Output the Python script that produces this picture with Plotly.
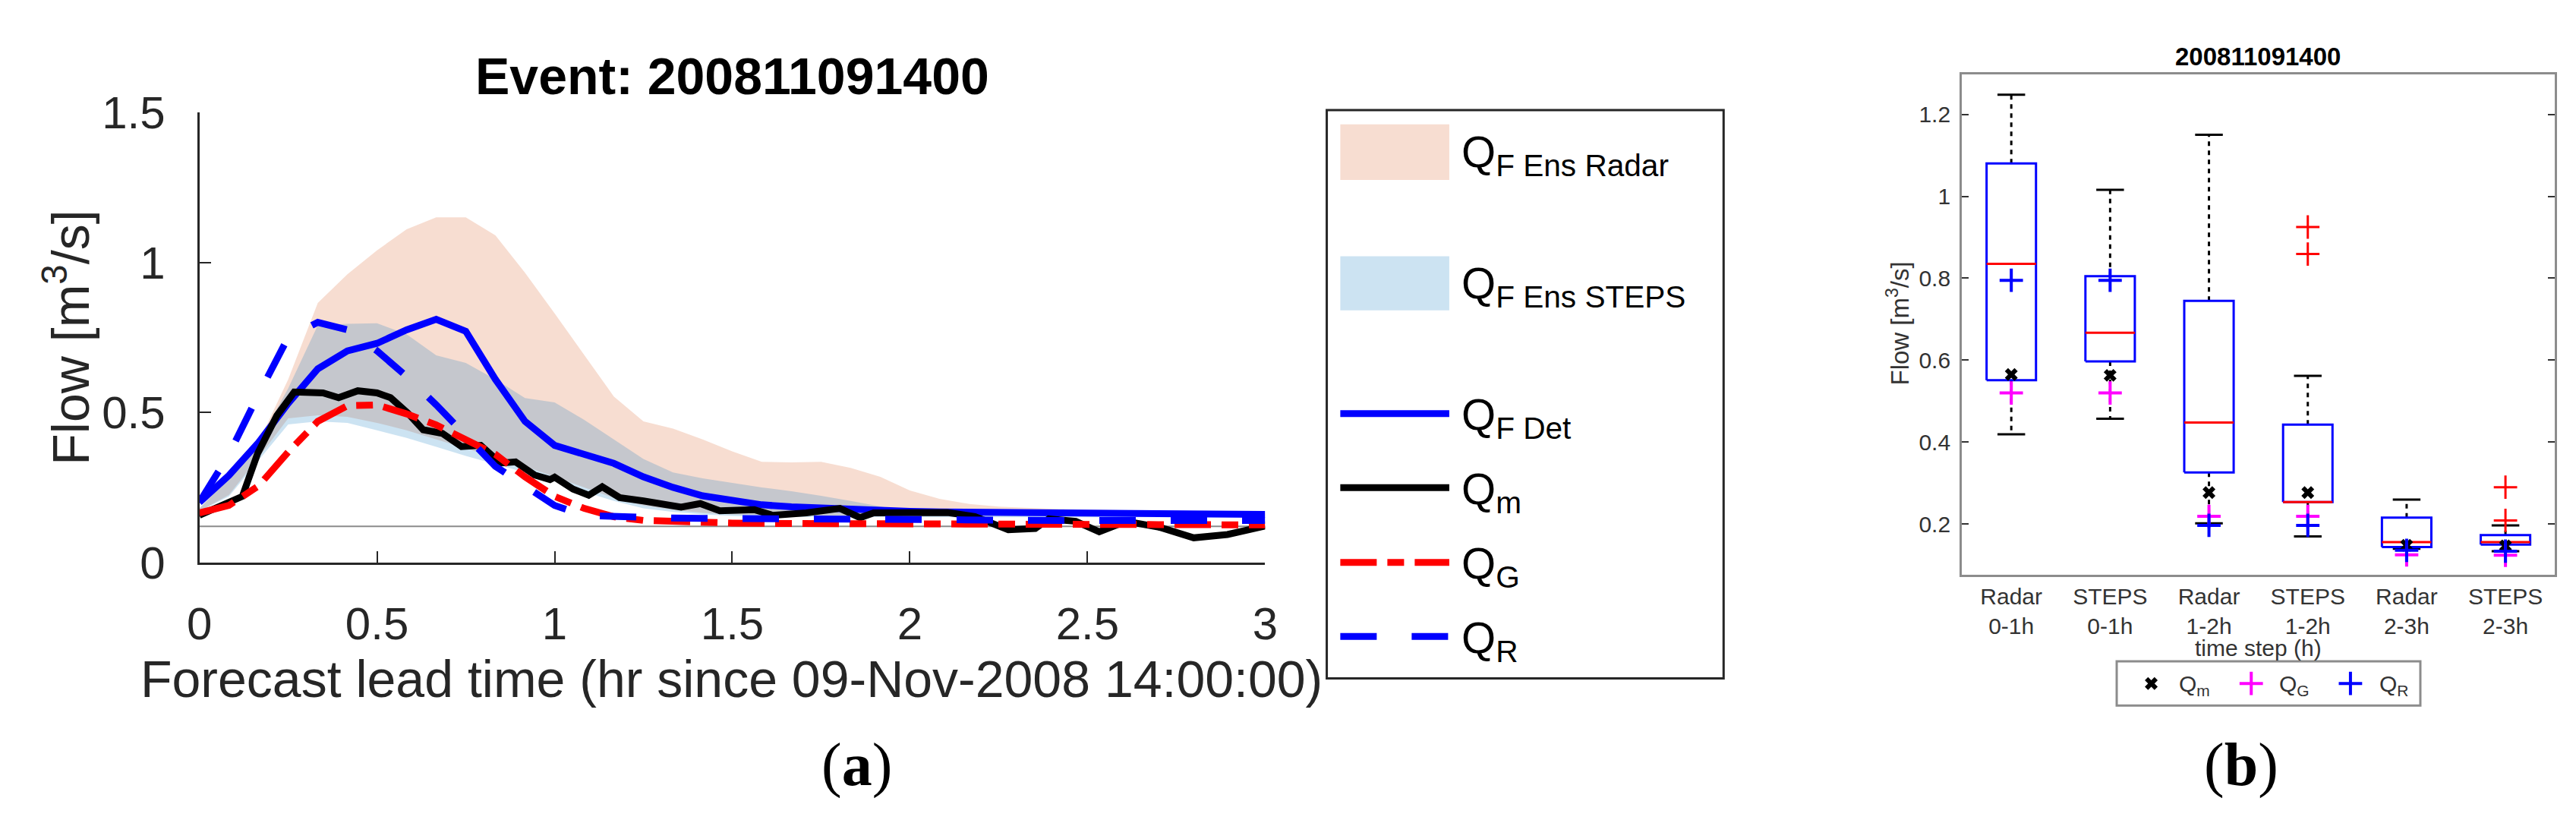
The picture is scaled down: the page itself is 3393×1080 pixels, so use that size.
"""
Two-panel flow forecast figure: (a) hydrographs with ensemble envelopes,
(b) hourly box plots of ensemble flow with observed / gauge / radar values.
"""

import plotly.graph_objects as go

FIG_W, FIG_H = 3393, 1080

# ---------------------------------------------------------------- panel (a)
# forecast lead time, minutes since 09-Nov-2008 14:00
LEAD_MIN = [0, 5, 10, 15, 20, 25, 30, 35, 40, 45, 50, 55, 60, 65, 70, 75, 80, 85, 90,
            95, 100, 105, 110, 115, 120, 125, 130, 135, 140, 145, 150, 155, 160, 165,
            170, 175, 180]

RADAR_ENS_HI = [0.18, 0.28, 0.40, 0.61, 0.865, 0.96, 1.04, 1.11, 1.15, 1.15, 1.09, 0.965,
                0.83, 0.69, 0.553, 0.47, 0.446, 0.41, 0.37, 0.335, 0.333, 0.335, 0.315,
                0.285, 0.24, 0.212, 0.195, 0.186, 0.182, 0.178, 0.176, 0.174, 0.172,
                0.170, 0.168, 0.166, 0.165]
RADAR_ENS_LO = [0.17, 0.225, 0.35, 0.48, 0.49, 0.485, 0.465, 0.44, 0.41, 0.38, 0.35, 0.32,
                0.285, 0.25, 0.215, 0.19, 0.175, 0.165, 0.16, 0.158, 0.157, 0.156, 0.156,
                0.155, 0.155, 0.155, 0.155, 0.155, 0.155, 0.155, 0.155, 0.155, 0.155,
                0.155, 0.155, 0.155, 0.155]
STEPS_ENS_HI = [0.18, 0.28, 0.40, 0.58, 0.79, 0.795, 0.797, 0.76, 0.69, 0.665, 0.61, 0.548,
                0.533, 0.475, 0.41, 0.345, 0.30, 0.28, 0.265, 0.25, 0.237, 0.222, 0.205,
                0.187, 0.168, 0.163, 0.162, 0.161, 0.161, 0.16, 0.16, 0.16, 0.16, 0.16,
                0.16, 0.16, 0.16]
STEPS_ENS_LO = [0.17, 0.22, 0.34, 0.46, 0.47, 0.465, 0.44, 0.415, 0.385, 0.355, 0.328, 0.30,
                0.27, 0.235, 0.205, 0.18, 0.168, 0.16, 0.155, 0.152, 0.151, 0.15, 0.15,
                0.15, 0.15, 0.15, 0.15, 0.15, 0.15, 0.15, 0.15, 0.15, 0.15, 0.15, 0.15,
                0.15, 0.15]
Q_F_DET = [0.20, 0.29, 0.40, 0.53, 0.645, 0.705, 0.73, 0.775, 0.81, 0.77, 0.61, 0.47, 0.39,
           0.362, 0.33, 0.285, 0.25, 0.222, 0.205, 0.192, 0.185, 0.18, 0.176, 0.172, 0.17,
           0.168, 0.167, 0.165, 0.164, 0.163, 0.163, 0.162, 0.162, 0.161, 0.161, 0.16, 0.16]
Q_G = [0.165, 0.19, 0.255, 0.368, 0.47, 0.522, 0.525, 0.495, 0.458, 0.408, 0.36, 0.285,
       0.22, 0.18, 0.152, 0.14, 0.136, 0.133, 0.131, 0.13, 0.13, 0.129, 0.129, 0.128, 0.128,
       0.128, 0.127, 0.127, 0.127, 0.126, 0.126, 0.126, 0.125, 0.125, 0.125, 0.125, 0.125]
Q_R = [0.20, 0.36, 0.56, 0.75, 0.80, 0.775, 0.705, 0.62, 0.525, 0.42, 0.32, 0.255, 0.19,
       0.156, 0.152, 0.15, 0.148, 0.147, 0.146, 0.145, 0.144, 0.143, 0.142, 0.142, 0.141,
       0.141, 0.14, 0.14, 0.14, 0.14, 0.14, 0.14, 0.14, 0.14, 0.14, 0.14, 0.14]

# observed flow (own, irregular time stamps in hours)
OBS_HR = [0, 0.121, 0.164, 0.218, 0.267, 0.348, 0.392, 0.446, 0.5, 0.538, 0.587, 0.63,
          0.684, 0.738, 0.792, 0.847, 0.89, 0.944, 0.987, 1.0, 1.052, 1.096, 1.134, 1.183,
          1.25, 1.302, 1.356, 1.41, 1.465, 1.562, 1.614, 1.708, 1.803, 1.86, 1.898, 2.106,
          2.183, 2.277, 2.353, 2.391, 2.467, 2.533, 2.609, 2.703, 2.799, 2.894, 3.0]
Q_M = [0.157, 0.220, 0.363, 0.489, 0.568, 0.565, 0.549, 0.572, 0.565, 0.549, 0.497, 0.442,
       0.430, 0.386, 0.39, 0.331, 0.335, 0.291, 0.276, 0.284, 0.244, 0.224, 0.252, 0.216,
       0.205, 0.196, 0.184, 0.196, 0.172, 0.176, 0.157, 0.165, 0.180, 0.149, 0.165, 0.166,
       0.153, 0.109, 0.113, 0.145, 0.137, 0.102, 0.137, 0.117, 0.082, 0.093, 0.121]

BASE_FLOW = 0.12

X_TICKS = [0, 0.5, 1, 1.5, 2, 2.5, 3]
X_TICK_TEXT = ["0", "0.5", "1", "1.5", "2", "2.5", "3"]
Y_TICKS = [0, 0.5, 1, 1.5]
Y_TICK_TEXT = ["0", "0.5", "1", "1.5"]

# ---------------------------------------------------------------- panel (b)
GROUPS = ["Radar<br>0-1h", "STEPS<br>0-1h", "Radar<br>1-2h",
          "STEPS<br>1-2h", "Radar<br>2-3h", "STEPS<br>2-3h"]
WHISK_HI = [1.248, 1.016, 1.150, 0.562, 0.260, 0.197]
BOX_Q3 = [1.080, 0.805, 0.745, 0.443, 0.216, 0.173]
BOX_MED = [0.835, 0.667, 0.448, 0.254, 0.156, 0.156]
BOX_Q1 = [0.551, 0.597, 0.326, 0.254, 0.144, 0.150]
WHISK_LO = [0.419, 0.457, 0.202, 0.170, 0.140, 0.134]
OUTLIER_GROUP = [4, 4, 6, 6]
OUTLIER_FLOW = [0.925, 0.859, 0.290, 0.209]
HOUR_QM = [0.565, 0.563, 0.277, 0.277, 0.148, 0.147]
HOUR_QG = [0.520, 0.520, 0.219, 0.219, 0.125, 0.124]
HOUR_QR = [0.795, 0.795, 0.197, 0.197, 0.136, 0.134]

B_Y_TICKS = [0.2, 0.4, 0.6, 0.8, 1.0, 1.2]
B_Y_TICK_TEXT = ["0.2", "0.4", "0.6", "0.8", "1", "1.2"]

# ---------------------------------------------------------------- styling
SANS = "Liberation Sans, Arial, sans-serif"
SERIF = "Liberation Serif, Times New Roman, serif"
AX = "#262626"
B_AX = "#8c8c8c"
B_TXT = "#333333"
RADAR_FILL = "rgba(217,83,25,0.2)"
STEPS_FILL = "rgba(0,114,189,0.2)"
LW = 9
DASH_R = "48px,46px"
DASH_G = "48px,14px,22px,14px"

QM_MARKER = dict(symbol="x", size=15, color="#000000")
QG_MARKER = dict(symbol="cross-thin", size=22, line=dict(color="#FF00FF", width=4))
QR_MARKER = dict(symbol="cross-thin", size=22, line=dict(color="#0000FF", width=4))


def px(x):
    return x / FIG_W


def py(y):
    return 1 - y / FIG_H


lead_hr = [m / 60 for m in LEAD_MIN]

fig = go.Figure()


def band(hi, lo, color):
    return go.Scatter(
        x=lead_hr + lead_hr[::-1],
        y=hi + lo[::-1],
        fill="toself",
        fillcolor=color,
        line=dict(width=0),
        mode="lines",
        hoverinfo="skip",
        showlegend=False,
        xaxis="x", yaxis="y",
    )


fig.add_trace(band(RADAR_ENS_HI, RADAR_ENS_LO, RADAR_FILL))
fig.add_trace(band(STEPS_ENS_HI, STEPS_ENS_LO, STEPS_FILL))

fig.add_trace(go.Scatter(
    x=[lead_hr[0], lead_hr[-1]], y=[BASE_FLOW, BASE_FLOW], mode="lines",
    line=dict(color="#8c8c8c", width=2), showlegend=False, xaxis="x", yaxis="y",
))

fig.add_trace(go.Scatter(x=lead_hr, y=Q_F_DET, mode="lines",
                         line=dict(color="#0000FF", width=LW), showlegend=False))
fig.add_trace(go.Scatter(x=OBS_HR, y=Q_M, mode="lines",
                         line=dict(color="#000000", width=LW), showlegend=False))
fig.add_trace(go.Scatter(x=lead_hr, y=Q_G, mode="lines",
                         line=dict(color="#FF0000", width=LW, dash=DASH_G), showlegend=False))
fig.add_trace(go.Scatter(x=lead_hr, y=Q_R, mode="lines",
                         line=dict(color="#0000FF", width=LW, dash=DASH_R), showlegend=False))

# ---- box plots (panel b), built from the summary statistics
HALF_BOX = 0.25
HALF_CAP = 0.14
box_x, box_y, med_x, med_y, wh_x, wh_y, cap_x, cap_y = [], [], [], [], [], [], [], []
for i, (hi, q3, med, q1, lo) in enumerate(zip(WHISK_HI, BOX_Q3, BOX_MED, BOX_Q1, WHISK_LO)):
    c = i + 1
    box_x += [c - HALF_BOX, c + HALF_BOX, c + HALF_BOX, c - HALF_BOX, c - HALF_BOX, None]
    box_y += [q1, q1, q3, q3, q1, None]
    med_x += [c - HALF_BOX, c + HALF_BOX, None]
    med_y += [med, med, None]
    wh_x += [c, c, None, c, c, None]
    wh_y += [q3, hi, None, q1, lo, None]
    cap_x += [c - HALF_CAP, c + HALF_CAP, None, c - HALF_CAP, c + HALF_CAP, None]
    cap_y += [hi, hi, None, lo, lo, None]

group_pos = list(range(1, len(GROUPS) + 1))

fig.add_trace(go.Scatter(x=wh_x, y=wh_y, mode="lines", xaxis="x2", yaxis="y2",
                         line=dict(color="#000000", width=3, dash="6px,6px"), showlegend=False))
fig.add_trace(go.Scatter(x=cap_x, y=cap_y, mode="lines", xaxis="x2", yaxis="y2",
                         line=dict(color="#000000", width=3), showlegend=False))
fig.add_trace(go.Scatter(x=box_x, y=box_y, mode="lines", xaxis="x2", yaxis="y2",
                         line=dict(color="#0000FF", width=3), showlegend=False))
fig.add_trace(go.Scatter(x=med_x, y=med_y, mode="lines", xaxis="x2", yaxis="y2",
                         line=dict(color="#FF0000", width=3), showlegend=False))
fig.add_trace(go.Scatter(x=OUTLIER_GROUP, y=OUTLIER_FLOW, mode="markers", xaxis="x2", yaxis="y2",
                         marker=dict(symbol="cross-thin", size=22, line=dict(color="#FF0000", width=3)),
                         showlegend=False))
fig.add_trace(go.Scatter(x=group_pos, y=HOUR_QM, mode="markers", xaxis="x2", yaxis="y2",
                         marker=QM_MARKER, showlegend=False))
fig.add_trace(go.Scatter(x=group_pos, y=HOUR_QG, mode="markers", xaxis="x2", yaxis="y2",
                         marker=QG_MARKER, showlegend=False))
fig.add_trace(go.Scatter(x=group_pos, y=HOUR_QR, mode="markers", xaxis="x2", yaxis="y2",
                         marker=QR_MARKER, showlegend=False))

# legend keys for panel (b): drawn on a hidden pixel-space overlay axis
LEG_B_Y = 916
for kx, mk in [(2837, QM_MARKER), (2970, QG_MARKER), (3102, QR_MARKER)]:
    fig.add_trace(go.Scatter(x=[kx], y=[LEG_B_Y], mode="markers", xaxis="x3", yaxis="y3",
                             marker=mk, showlegend=False, hoverinfo="skip"))

# ---- custom legend for panel (a)
shapes = [
    dict(type="rect", xref="paper", yref="paper", x0=px(1740), x1=px(2268), y0=py(909), y1=py(111),
         line=dict(color=AX, width=3), fillcolor="rgba(0,0,0,0)"),
    dict(type="rect", xref="paper", yref="paper", x0=px(1758), x1=px(1903), y0=py(209), y1=py(131),
         line=dict(width=0), fillcolor=RADAR_FILL),
    dict(type="rect", xref="paper", yref="paper", x0=px(1758), x1=px(1903), y0=py(392), y1=py(316),
         line=dict(width=0), fillcolor=STEPS_FILL),
    # legend border for panel (b)
    dict(type="rect", xref="paper", yref="paper", x0=px(2791), x1=px(3195), y0=py(947), y1=py(885),
         line=dict(color=B_AX, width=3), fillcolor="rgba(0,0,0,0)"),
]
legend_lines = [(537, "#0000FF", "solid"), (641, "#000000", "solid"),
                (746, "#FF0000", DASH_G), (850, "#0000FF", DASH_R)]
for yy, col, dash in legend_lines:
    shapes.append(dict(type="line", xref="paper", yref="paper", x0=px(1758), x1=px(1903),
                       y0=py(yy), y1=py(yy), line=dict(color=col, width=LW, dash=dash)))

legend_texts = [(174, "Q<sub>F Ens Radar</sub>"), (358, "Q<sub>F Ens STEPS</sub>"),
                (543, "Q<sub>F Det</sub>"), (647, "Q<sub>m</sub>"),
                (752, "Q<sub>G</sub>"), (856, "Q<sub>R</sub>")]

annotations = []
for yy, txt in legend_texts:
    annotations.append(dict(x=px(1917), y=py(yy), text=txt, xanchor="left",
                            font=dict(family=SANS, size=58, color="#000000")))
for tx, txt in [(2872, "Q<sub>m</sub>"), (3005, "Q<sub>G</sub>"), (3138, "Q<sub>R</sub>")]:
    annotations.append(dict(x=px(tx), y=py(LEG_B_Y + 3), text=txt, xanchor="left",
                            font=dict(family=SANS, size=30, color=B_TXT)))

annotations += [
    dict(x=px(949), y=py(63), text="<b>Event: 200811091400</b>",
         font=dict(family=SANS, size=68, color="#000000")),
    dict(x=px(948), y=py(909), text="Forecast lead time (hr since 09-Nov-2008 14:00:00)",
         font=dict(family=SANS, size=68, color=AX)),
    dict(x=px(64), y=py(430), text="Flow [m<sup>3</sup>/s]", textangle=-90,
         font=dict(family=SANS, size=68, color=AX)),
    dict(x=px(2979), y=py(36), text="<b>200811091400</b>",
         font=dict(family=SANS, size=33, color="#000000")),
    dict(x=px(2979), y=py(866), text="time step (h)",
         font=dict(family=SANS, size=30, color=B_TXT)),
    dict(x=px(2500), y=py(410), text="Flow [m<sup>3</sup>/s]", textangle=-90,
         font=dict(family=SANS, size=33, color=B_TXT)),
    dict(x=px(1115), y=py(1030), text="(<b>a</b>)",
         font=dict(family=SERIF, size=80, color="#000000")),
    dict(x=px(2957), y=py(1030), text="(<b>b</b>)",
         font=dict(family=SERIF, size=80, color="#000000")),
]
for a in annotations:
    a.setdefault("xref", "paper")
    a.setdefault("yref", "paper")
    a.setdefault("showarrow", False)
    a.setdefault("xanchor", "center")
    a.setdefault("yanchor", "middle")

fig.update_layout(
    width=FIG_W, height=FIG_H,
    margin=dict(l=0, r=0, t=0, b=0),
    paper_bgcolor="white", plot_bgcolor="rgba(0,0,0,0)",
    font=dict(family=SANS, color=AX),
    showlegend=False,
    xaxis=dict(domain=[px(240), px(1658)], range=[0, 3], anchor="y",
               tickvals=X_TICKS, ticktext=X_TICK_TEXT,
               ticks="inside", ticklen=15, tickwidth=2, tickcolor=AX,
               showline=True, linecolor=AX, linewidth=3,
               showgrid=False, zeroline=False, ticklabelstandoff=26,
               tickfont=dict(family=SANS, size=60, color=AX)),
    yaxis=dict(domain=[py(746), py(114)], range=[0, 1.5], anchor="x",
               tickvals=Y_TICKS, ticktext=Y_TICK_TEXT,
               ticks="inside", ticklen=15, tickwidth=2, tickcolor=AX,
               showline=True, linecolor=AX, linewidth=3,
               showgrid=False, zeroline=False, ticklabelstandoff=30,
               tickfont=dict(family=SANS, size=60, color=AX)),
    xaxis2=dict(domain=[px(2585), px(3374)], range=[0.5, 6.5], anchor="y2",
                tickvals=group_pos, ticktext=GROUPS, ticks="",
                showline=True, mirror=True, linecolor=B_AX, linewidth=3,
                showgrid=False, zeroline=False, ticklabelstandoff=0,
                tickfont=dict(family=SANS, size=30, color=B_TXT)),
    yaxis2=dict(domain=[py(763), py(61)], range=[0.077, 1.297], anchor="x2",
                tickvals=B_Y_TICKS, ticktext=B_Y_TICK_TEXT,
                ticks="inside", ticklen=9, tickwidth=2, tickcolor=B_TXT,
                showline=True, mirror="ticks", linecolor=B_AX, linewidth=3,
                showgrid=False, zeroline=False, ticklabelstandoff=6,
                tickfont=dict(family=SANS, size=30, color=B_TXT)),
    xaxis3=dict(domain=[0, 1], range=[0, FIG_W], anchor="y3", visible=False, fixedrange=True),
    yaxis3=dict(domain=[0, 1], range=[FIG_H, 0], anchor="x3", visible=False, fixedrange=True),
    shapes=shapes,
    annotations=annotations,
)

fig.write_html("out.html")
